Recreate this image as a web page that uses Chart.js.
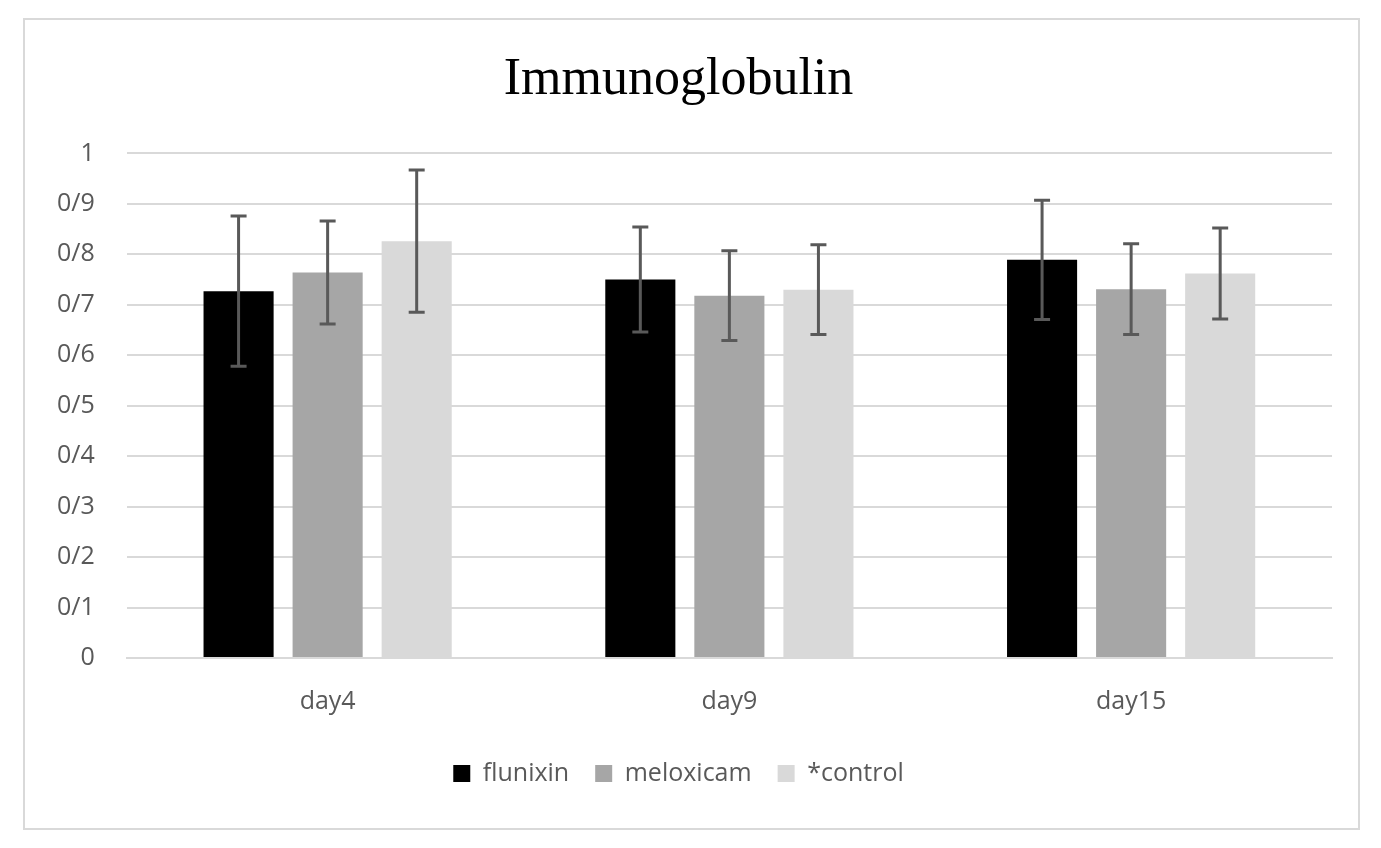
<!DOCTYPE html>
<html>
<head>
<meta charset="utf-8">
<script src="https://cdn.jsdelivr.net/npm/chart.js@4.4.1/dist/chart.umd.min.js"></script>
<style>
  html, body { margin: 0; padding: 0; background: #fff; }
  #wrap { position: relative; width: 1381px; height: 848px; }
  #frame {
    position: absolute; left: 23px; top: 18px; width: 1333px; height: 808px;
    border: 2px solid #d9d9d9; pointer-events: none;
  }
</style>
</head>
<body>
<div id="wrap">
  <canvas id="chart" width="1381" height="848"></canvas>
  <div id="frame"></div>
</div>
<script>
// Category labels and series
const days = ['day4', 'day9', 'day15'];
const flunixin = [0.727, 0.750, 0.789];
const meloxicam = [0.764, 0.718, 0.731];
const control = [0.826, 0.730, 0.762];

// error bar half-lengths
const flunixinErr = [0.149, 0.104, 0.118];
const meloxicamErr = [0.102, 0.089, 0.090];
const controlErr = [0.141, 0.089, 0.090];

const yTicks = ['0', '0/1', '0/2', '0/3', '0/4', '0/5', '0/6', '0/7', '0/8', '0/9', '1'];

const TEXT = '#595959';
const GRID = '#d9d9d9';
const FONT = '"Open Sans", sans-serif';

// Draws error bars on top of the bars, using the bar elements and the y scale
const errorBars = {
  id: 'errorBars',
  afterDatasetsDraw(chart) {
    const { ctx, scales: { y } } = chart;
    ctx.save();
    ctx.strokeStyle = TEXT;
    ctx.lineWidth = 3;
    chart.data.datasets.forEach((ds, di) => {
      const meta = chart.getDatasetMeta(di);
      meta.data.forEach((bar, i) => {
        const v = ds.data[i];
        const e = ds.errors[i];
        const top = y.getPixelForValue(v + e);
        const bot = y.getPixelForValue(v - e);
        const x = bar.x;
        ctx.beginPath();
        ctx.moveTo(x, top); ctx.lineTo(x, bot);
        ctx.moveTo(x - 8, top); ctx.lineTo(x + 8, top);
        ctx.moveTo(x - 8, bot); ctx.lineTo(x + 8, bot);
        ctx.stroke();
      });
    });
    ctx.restore();
  },
};

new Chart(document.getElementById('chart'), {
  type: 'bar',
  data: {
    labels: days,
    datasets: [
      { label: 'flunixin', data: flunixin, errors: flunixinErr, backgroundColor: '#000000' },
      { label: 'meloxicam', data: meloxicam, errors: meloxicamErr, backgroundColor: '#a6a6a6' },
      { label: '*control', data: control, errors: controlErr, backgroundColor: '#d9d9d9' },
    ],
  },
  options: {
    responsive: false,
    animation: false,
    devicePixelRatio: 1,
    categoryPercentage: 0.665,
    barPercentage: 0.787,
    layout: { padding: { left: 25, right: 49, top: 0, bottom: 52 } },
    plugins: {
      title: {
        display: true,
        text: 'Immunoglobulin',
        color: '#000',
        font: { family: '"Liberation Serif", "Times New Roman", serif', size: 52, weight: 'normal' },
        padding: { top: 49, bottom: 42 },
      },
      legend: {
        position: 'bottom',
        labels: {
          color: TEXT,
          boxWidth: 17,
          boxHeight: 17,
          padding: 26,
          font: { family: FONT, size: 25 },
        },
      },
      tooltip: { enabled: false },
    },
    scales: {
      x: {
        grid: { display: false },
        border: { color: GRID, width: 2 },
        ticks: { color: TEXT, padding: 21, font: { family: FONT, size: 25 } },
        afterFit: axis => { axis.height -= 3; },
      },
      y: {
        min: 0,
        max: 1,
        afterBuildTicks: axis => {
          axis.ticks = yTicks.map((_, i) => ({ value: i / 10 }));
        },
        grid: { color: GRID, lineWidth: 2, drawTicks: false },
        border: { display: false },
        ticks: {
          color: TEXT,
          padding: 32,
          font: { family: FONT, size: 25 },
          callback: (v, i) => yTicks[i],
        },
      },
    },
  },
  plugins: [errorBars],
});
</script>
</body>
</html>
